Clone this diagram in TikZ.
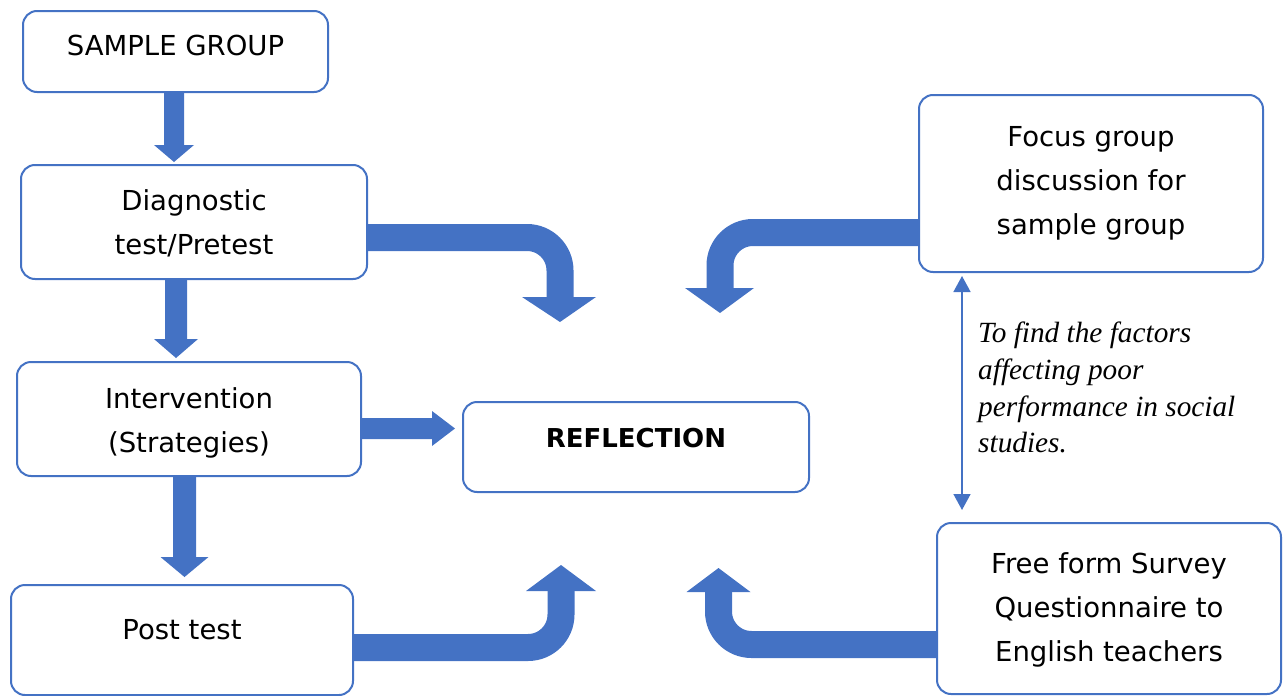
\documentclass[tikz,border=0pt]{standalone}
\usepackage{fontspec}
\usetikzlibrary{calc,arrows.meta}
\newfontfamily\boxfont{DejaVu Sans}
\newfontfamily\noteserif{Liberation Serif}
\definecolor{bblue}{HTML}{4472C4}
\tikzset{
  box/.style={draw=bblue, line width=2pt, rounded corners=14pt, fill=white, align=center,
    inner sep=0pt, font=\boxfont\fontsize{27.5}{44}\selectfont},
  arw/.style={fill=bblue, draw=none},
  bentline/.style={draw=bblue, line width=27pt, rounded corners=33pt},
}
% vertical thick arrow: #1 from, #2 to, #3 x offset, #4 half shaft, #5 half head, #6 head length, #7 gap
\newcommand\tdown[7]{%
  \fill[arw] let \p1=($(#1.south)+(#3,0)$), \p2=(#2.north) in
    (\x1-#4,\y1) -- (\x1+#4,\y1) -- (\x1+#4,\y2+#7+#6) -- (\x1+#5,\y2+#7+#6)
    -- (\x1,\y2+#7) -- (\x1-#5,\y2+#7+#6) -- (\x1-#4,\y2+#7+#6) -- cycle;}
\begin{document}
\begin{tikzpicture}[x=1pt,y=-1pt]
\useasboundingbox (0,0) rectangle (1286,696);

% boxes
\node[box, minimum width=305pt, minimum height=81pt, text height=21pt, text depth=14pt] (sample) at (175.5,51.5) {SAMPLE GROUP};
\node[box, minimum width=346pt, minimum height=114pt] (diag) at (194,222) {\rule{0pt}{24pt}Diagnostic\\test/Pretest};
\node[box, minimum width=344pt, minimum height=114pt] (interv) at (189,419) {\rule{0pt}{28pt}Intervention\\(Strategies)};
\node[box, minimum width=342pt, minimum height=110pt, text height=21pt, text depth=23pt] (post) at (182,640) {Post test};
\node[box, minimum width=346pt, minimum height=90pt, text height=20pt, text depth=19pt, font=\boxfont\bfseries\fontsize{26}{40}\selectfont] (refl) at (636,447) {REFLECTION};
\node[box, minimum width=344pt, minimum height=177pt] (focus) at (1091,183.5) {Focus group\\discussion for\\sample group};
\node[box, minimum width=344pt, minimum height=171pt] (survey) at (1109,608.5) {\rule{0pt}{24pt}Free form Survey\\Questionnaire to\\English teachers};

% vertical arrows
\tdown{sample}{diag}{-1.5pt}{10pt}{20pt}{17pt}{2pt}
\tdown{diag}{interv}{-18pt}{11pt}{22pt}{19pt}{3pt}
\tdown{interv}{post}{-4.5pt}{11.5pt}{24pt}{20pt}{7pt}

% horizontal arrow to reflection
\fill[arw] let \p1=($(interv.east)+(0,9.5)$), \p2=(refl.west) in
  (\x1,\y1+10.5pt) -- (\x2-30pt,\y1+10.5pt) -- (\x2-30pt,\y1+17.5pt) -- (\x2-7pt,\y1)
  -- (\x2-30pt,\y1-17.5pt) -- (\x2-30pt,\y1-10.5pt) -- (\x1,\y1-10.5pt) -- cycle;

% bent arrows
\coordinate (c1) at (560,237.5);
\coordinate (b1) at (560,297);
\coordinate (t1) at (560,322);
\draw[bentline] ($(diag.east)+(-1,15.5)$) -- (c1) -- (b1);
\fill[arw] ($(b1)+(-38,0)$) -- ($(b1)+(36,0)$) -- (t1) -- cycle;

\coordinate (c2) at (720,232.5);
\coordinate (b2) at (720,288);
\coordinate (t2) at (720,313);
\draw[bentline] ($(focus.west)+(1,49)$) -- (c2) -- (b2);
\fill[arw] ($(b2)+(-35,0)$) -- ($(b2)+(34,0)$) -- (t2) -- cycle;

\coordinate (c3) at (561,647.5);
\coordinate (b3) at (561,591);
\coordinate (t3) at (561,565);
\draw[bentline] ($(post.east)+(-1,7.5)$) -- (c3) -- (b3);
\fill[arw] ($(b3)+(-35,0)$) -- ($(b3)+(35,0)$) -- (t3) -- cycle;

\coordinate (c4) at (718.5,644.5);
\coordinate (b4) at (718.5,592);
\coordinate (t4) at (718.5,568);
\draw[bentline] ($(survey.west)+(1,36)$) -- (c4) -- (b4);
\fill[arw] ($(b4)+(-32,0)$) -- ($(b4)+(32,0)$) -- (t4) -- cycle;

% double arrow with note
\coordinate (d1) at ($(focus.south west)+(44,3)$);
\coordinate (d2) at ($(survey.north west)+(26,-12)$);
\draw[bblue, line width=1.5pt, {Triangle[width=17pt,length=16pt]}-{Triangle[width=17pt,length=16pt]}] (d1) -- (d2);
\node[anchor=north west, align=left, inner sep=0pt,
  font=\noteserif\itshape\fontsize{29.3}{36.7}\selectfont] (note) at (978,322)
  {To find the factors\\affecting poor\\performance in social\\studies.};
\end{tikzpicture}
\end{document}
